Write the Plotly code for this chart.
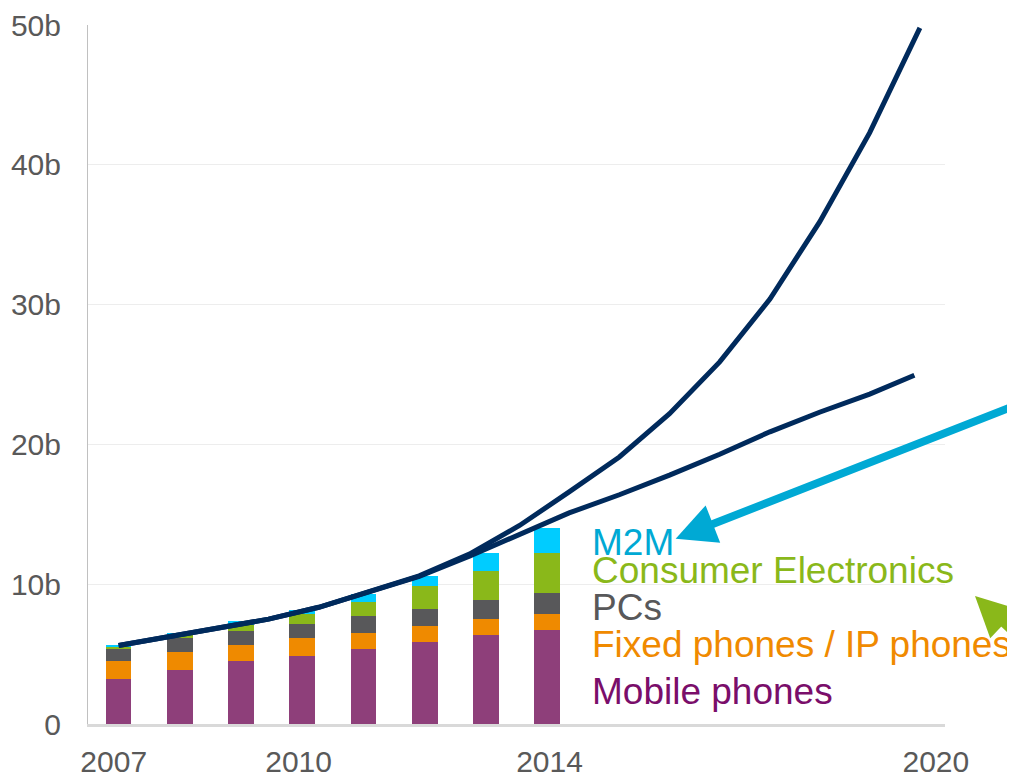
import plotly.graph_objects as go

#############################################
# Data (billions of devices)
#############################################

years = [2007, 2008, 2009, 2010, 2011, 2012, 2013, 2014]

mobile_phones = [3.20, 3.86, 4.50, 4.86, 5.36, 5.86, 6.36, 6.71]
fixed_phones = [1.30, 1.28, 1.14, 1.28, 1.14, 1.14, 1.14, 1.15]
pcs = [0.86, 1.00, 1.00, 1.00, 1.21, 1.21, 1.36, 1.50]
consumer_electronics = [0.16, 0.29, 0.45, 0.71, 1.00, 1.64, 2.09, 2.88]
m2m = [0.12, 0.10, 0.26, 0.29, 0.57, 0.71, 1.29, 1.76]

# forecast curves
forecast_x = [2007.0, 2007.82, 2008.64, 2009.45, 2010.27, 2011.09, 2011.91, 2012.73, 2013.55,
              2014.36, 2015.18, 2016.0, 2016.82, 2017.64, 2018.45, 2019.27, 2020.09]
forecast_high = [5.62, 6.22, 6.85, 7.50, 8.35, 9.50, 10.60, 12.15, 14.20,
                 16.60, 19.10, 22.20, 25.90, 30.40, 35.90, 42.30, 49.80]
forecast_low_x = forecast_x[:-1] + [2020.0]
forecast_low = [5.62, 6.22, 6.85, 7.50, 8.35, 9.45, 10.55, 12.00, 13.60,
                15.10, 16.40, 17.80, 19.30, 20.90, 22.30, 23.60, 24.95]

y_ticks = [0, 10, 20, 30, 40, 50]
y_tick_text = ['0', '10b', '20b', '30b', '40b', '50b']
# year labels sit slightly off the bar centres in the original
x_ticks = [2006.92, 2009.94, 2014.04, 2020.35]
x_tick_text = ['2007', '2010', '2014', '2020']

#############################################
# Plot
#############################################

series = [
    ('Mobile phones', mobile_phones, '#8E3F7A', '#7A0E6A'),
    ('Fixed phones / IP phones', fixed_phones, '#EF8A00', '#F08A00'),
    ('PCs', pcs, '#58585A', '#58585A'),
    ('Consumer Electronics', consumer_electronics, '#8AB81A', '#8AB81A'),
    ('M2M', m2m, '#00CCFF', '#00A9D4'),
]

fig = go.Figure()
for name, values, color, _ in series:
    fig.add_trace(go.Bar(x=years, y=values, name=name, marker_color=color,
                         marker_line_width=0, width=0.42))

fig.add_trace(go.Scatter(x=forecast_low_x, y=forecast_low, mode='lines',
                         line=dict(color='#002A5C', width=5)))
fig.add_trace(go.Scatter(x=forecast_x, y=forecast_high, mode='lines',
                         line=dict(color='#002A5C', width=5)))

# category labels beside the bars
label_y = {'M2M': 13.0, 'Consumer Electronics': 10.95, 'PCs': 8.3,
           'Fixed phones / IP phones': 5.72, 'Mobile phones': 2.36}
for name, _, _, text_color in series:
    fig.add_annotation(x=2014.7, y=label_y[name], text=name, showarrow=False,
                       xanchor='left', yanchor='middle',
                       font=dict(size=37, color=text_color))

# arrows coming in from the right
fig.add_annotation(x=2016.1, y=13.26, text='', showarrow=True, ax=345, ay=-133,
                   arrowcolor='#00A9D4', arrowwidth=8, arrowhead=2, arrowsize=1)
fig.add_annotation(x=1.035, y=0.183, xref='paper', yref='paper', text='',
                   showarrow=True, ax=80, ay=38,
                   arrowcolor='#8AB81A', arrowwidth=8, arrowhead=2, arrowsize=1)

# the page has an 8px body margin, so the figure is 8px smaller than the window
fig.update_layout(
    barmode='stack', showlegend=False, width=1007, height=768,
    margin=dict(l=80, r=70, t=17, b=52),
    plot_bgcolor='white', paper_bgcolor='white',
    font=dict(family='Liberation Sans, Arial', color='#595959', size=30),
)
fig.update_xaxes(range=[2006.5, 2020.5], tickvals=x_ticks, ticktext=x_tick_text,
                 showgrid=False, showline=True, linecolor='#D9D9D9', linewidth=3,
                 automargin=False, ticks='', ticklabelstandoff=9,
                 tickfont=dict(size=30, color='#595959'))
fig.update_yaxes(range=[0, 50], tickvals=y_ticks, ticktext=y_tick_text,
                 showgrid=True, gridcolor='#EDEDED', gridwidth=1, zeroline=False,
                 showline=True, linecolor='#C0C0C0', linewidth=1, automargin=False,
                 ticks='', ticklabelstandoff=20, tickfont=dict(size=30, color='#595959'))

fig.write_html("out.html")
